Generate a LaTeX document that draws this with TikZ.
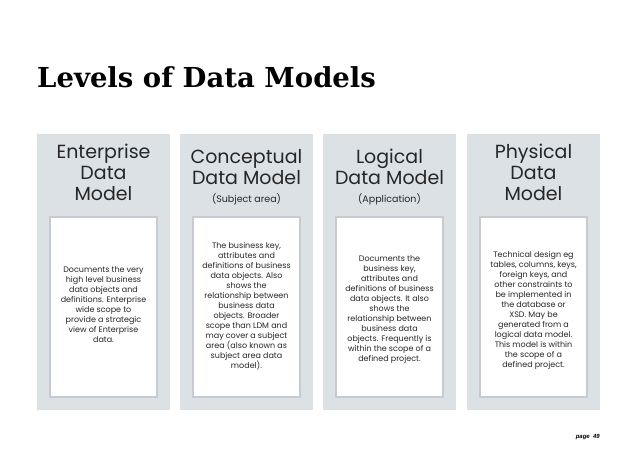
\documentclass[tikz,border=0pt]{standalone}
\usepackage{fontspec}
\setmainfont{Poppins}
\newfontfamily\titlefont{DejaVu Serif}
\newfontfamily\pagefont{Liberation Sans}
\usetikzlibrary{positioning}
\definecolor{colfill}{HTML}{DCE1E6}
\definecolor{boxline}{HTML}{C5CBD1}
\definecolor{textgray}{HTML}{262626}
\newcommand{\subheadfont}{\fontsize{9.5}{10}\selectfont}
\tikzset{
  column/.style={fill=colfill, draw=none},
  bodybox/.style={fill=white, draw=boxline, line width=1.2pt},
  header/.style={align=center, font=\fontsize{19}{21}\selectfont, text=textgray, inner sep=0pt},
  body/.style={align=center, font=\fontsize{8}{10}\selectfont, text=textgray, inner sep=0pt}
}
\begin{document}
\begin{tikzpicture}[x=1pt, y=-1pt]
	\useasboundingbox (0,0) rectangle (638,452);
	\fill[white] (0,0) rectangle (638,452);

	\node[anchor=base west, inner sep=0pt, font=\titlefont\bfseries\fontsize{27.5}{30}\selectfont] (title) at (37,88) {Levels of Data Models};

	% columns
	\foreach \x in {37,180,323,467}{
		\draw[column] (\x,134) rectangle ++(133,276);
		\draw[bodybox] (\x+13,217) rectangle ++(107,180);
	}

	% headers
	\node[header] (hent) at (103.5,172) {Enterprise\\Data\\Model};
	\node[header] (hcon) at (246.5,177) {Conceptual\\Data Model\\[-3pt]{\subheadfont (Subject area)}};
	\node[header] (hlog) at (389.5,177) {Logical\\Data Model\\[-3pt]{\subheadfont (Application)}};
	\node[header] (hphy) at (533.5,172) {Physical\\Data\\Model};

	% body texts
	\node[body] (bent) at (103.5,305) {Documents the very\\high level business\\data objects and\\definitions. Enterprise\\wide scope to\\provide a strategic\\view of Enterprise\\data.};
	\node[body] (bcon) at (246.5,306) {The business key,\\attributes and\\definitions of business\\data objects. Also\\shows the\\relationship between\\business data\\objects. Broader\\scope than LDM and\\may cover a subject\\area (also known as\\subject area data\\model).};
	\node[body] (blog) at (389.5,310) {Documents the\\business key,\\attributes and\\definitions of business\\data objects. It also\\shows the\\relationship between\\business data\\objects. Frequently is\\within the scope of a\\defined project.};
	\node[body] (bphy) at (533.5,310) {Technical design eg\\tables, columns, keys,\\foreign keys, and\\other constraints to\\be implemented in\\the database or\\XSD. May be\\generated from a\\logical data model.\\This model is within\\the scope of a\\defined project.};

	\node[anchor=base east, inner sep=0pt, font=\pagefont\bfseries\itshape\fontsize{6}{7}\selectfont] (pagenum) at (600,438) {page~~49};
\end{tikzpicture}
\end{document}
